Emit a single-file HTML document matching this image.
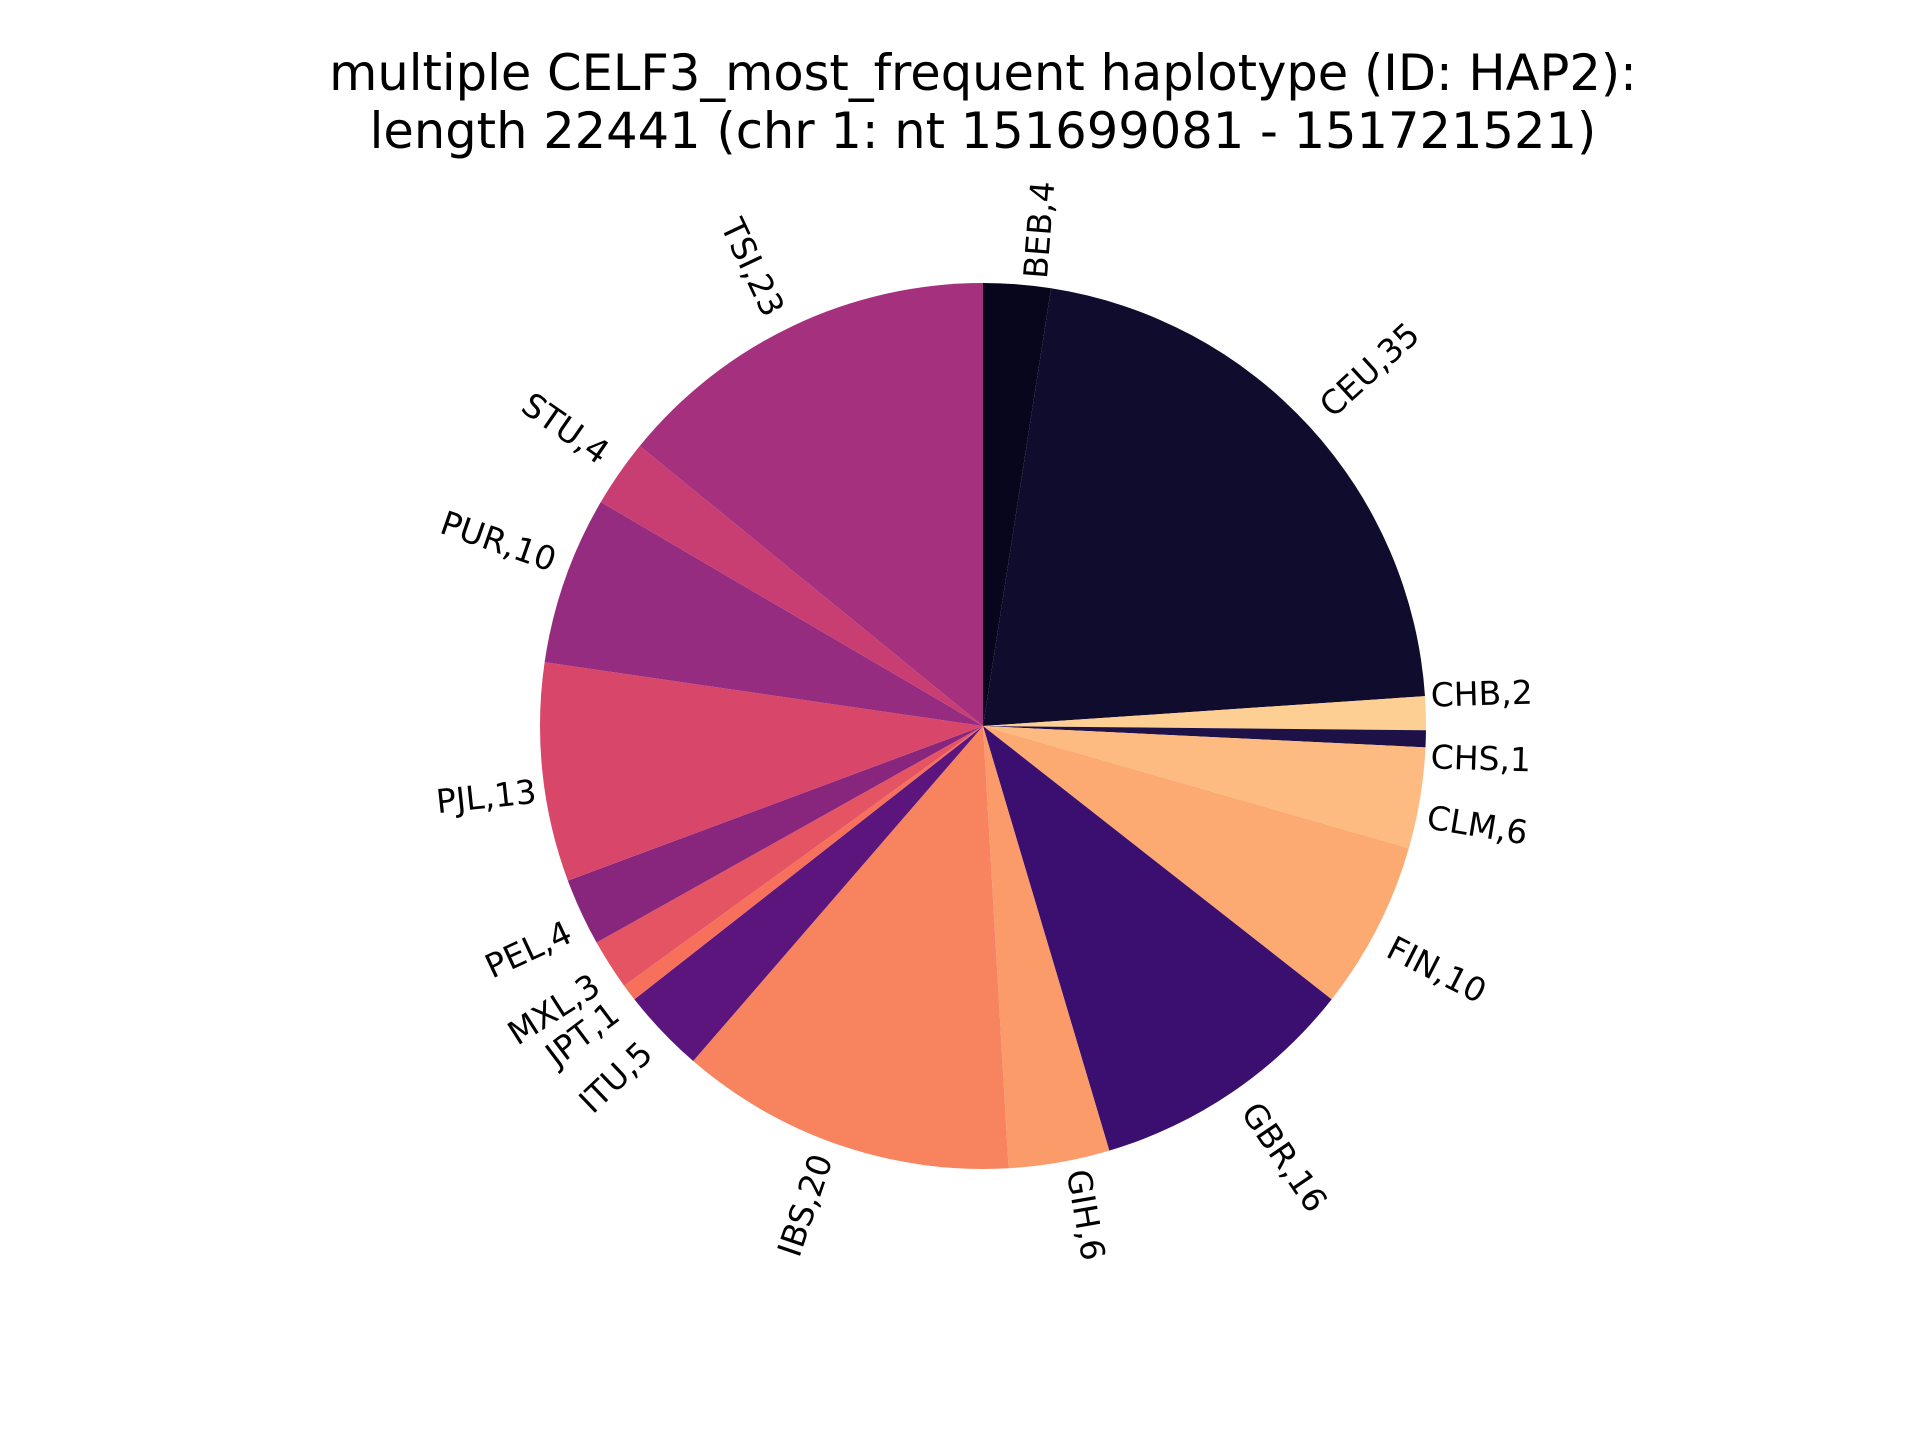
<!DOCTYPE html>
<html><head><meta charset="utf-8"><style>
html,body{margin:0;padding:0;background:#fff;}
svg{display:block;font-family:"DejaVu Sans","Liberation Sans",sans-serif;}
</style></head><body>
<svg id="chart" width="1920" height="1440" viewBox="0 0 1920 1440" xmlns="http://www.w3.org/2000/svg">
<rect width="1920" height="1440" fill="#fff"/>
<text x="983" y="90" font-size="49.5" text-anchor="middle" fill="#000">multiple CELF3_most_frequent haplotype (ID: HAP2):</text>
<text x="983" y="148" font-size="49.5" text-anchor="middle" fill="#000">length 22441 (chr 1: nt 151699081 - 151721521)</text>
<g id="slices"></g>
<g id="labels"></g>
</svg>
<script>
const categories = ["BEB","CEU","CHB","CHS","CLM","FIN","GBR","GIH","IBS","ITU","JPT","MXL","PEL","PJL","PUR","STU","TSI"];
const values = [4,35,2,1,6,10,16,6,20,5,1,3,4,13,10,4,23];
const colors = ["#07061c","#100c2e","#fecf92","#1d1147","#febb81","#fca972","#3b0f70","#fb9b6a","#f8845f","#5b157d","#f7705c","#e55463","#88267e","#d8466a","#952c80","#c83e73","#a5317e"];
const cx = 983, cy = 726, R = 443;
const total = values.reduce((a,b)=>a+b,0);
const NS = "http://www.w3.org/2000/svg";
const gS = document.getElementById('slices'), gL = document.getElementById('labels');
function pt(deg, r){ const a = deg*Math.PI/180; return [cx + r*Math.cos(a), cy - r*Math.sin(a)]; }
let start = 90;
values.forEach((v,i)=>{
  const sweep = v/total*360;
  const end = start - sweep;
  const p1 = pt(start,R), p2 = pt(end,R);
  const large = sweep > 180 ? 1 : 0;
  const path = document.createElementNS(NS,'path');
  path.setAttribute('d', `M${cx},${cy} L${p1[0]},${p1[1]} A${R},${R} 0 ${large} 1 ${p2[0]},${p2[1]} Z`);
  path.setAttribute('fill', colors[i]);
  
  
  gS.appendChild(path);
  const mid = (start + end)/2;
  const lp = pt(mid, R*1.01);
  const right = Math.cos(mid*Math.PI/180) > 0;
  const up = Math.sin(mid*Math.PI/180) > 0;
  const rot = right ? mid : mid + 180;
  const t = document.createElementNS(NS,'text');
  t.setAttribute('font-size', '33');
  t.setAttribute('text-anchor', 'middle');
  t.setAttribute('dominant-baseline', 'central');
  t.textContent = categories[i] + ',' + values[i];
  
  
  gL.appendChild(t);
  const w = t.getComputedTextLength(), h = 36;
  const r = rot*Math.PI/180;
  const W = Math.abs(w*Math.cos(r)) + Math.abs(h*Math.sin(r));
  const H = Math.abs(w*Math.sin(r)) + Math.abs(h*Math.cos(r));
  const ccx = right ? lp[0] + W/2 : lp[0] - W/2;
  const ccy = up ? lp[1] - H/2 : lp[1] + H/2;
  t.setAttribute('x', ccx); t.setAttribute('y', ccy);
  t.setAttribute('transform', `rotate(${-rot} ${ccx} ${ccy})`);
  start = end;
});
</script>
</body></html>
